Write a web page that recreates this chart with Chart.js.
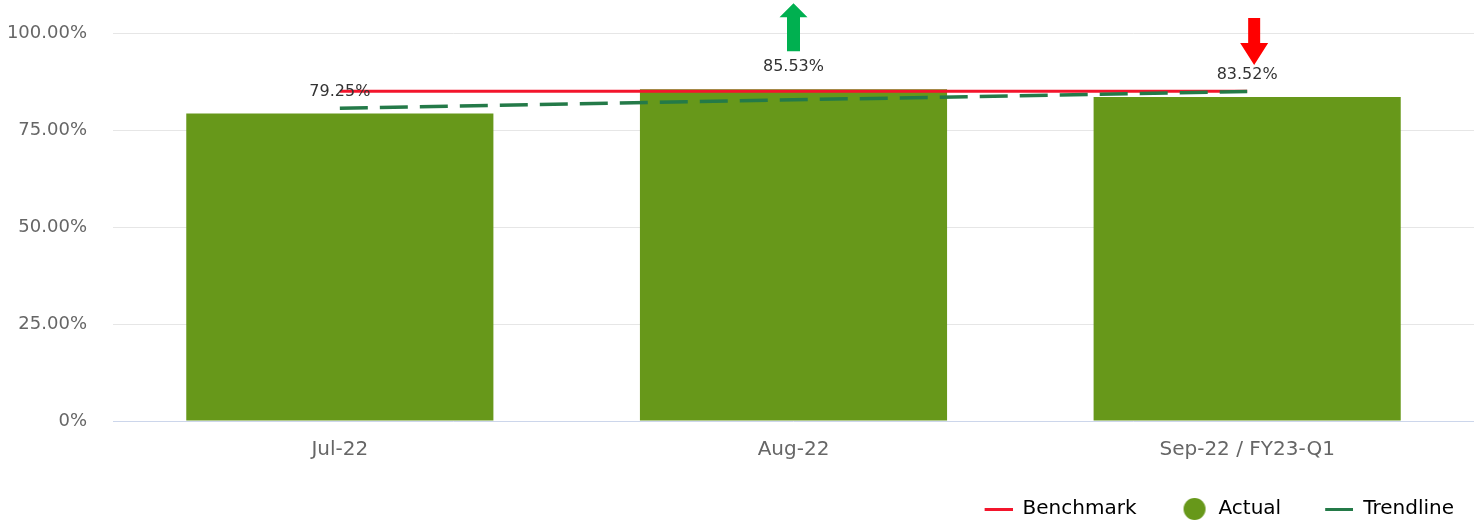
<!DOCTYPE html>
<html>
<head>
<meta charset="utf-8">
<script src="https://cdn.jsdelivr.net/npm/chart.js@4.4.0/dist/chart.umd.min.js"></script>
<style>
  html, body { margin: 0; padding: 0; background: #fff; }
</style>
</head>
<body>
<canvas id="chart" width="1475" height="522"></canvas>
<script>
// Chart data
const months = ['Jul-22', 'Aug-22', 'Sep-22 / FY23-Q1'];
const actual = [79.25, 85.53, 83.52];
const benchmark = [85, 85, 85];
const trendline = [80.63, 82.77, 84.90];
const movement = [null, 'up', 'down'];
const yTicks = [0, 25, 50, 75, 100];

const BAR_GREEN = '#67981a';
const BENCH_RED = '#f3152c';
const TREND_GREEN = '#247a48';

Chart.defaults.font.family = "'DejaVu Sans', Verdana, sans-serif";

// legend markers: 52px wide box, marker sits on the right so items get extra spacing
function legendLine(color) {
    const c = document.createElement('canvas');
    c.width = 52; c.height = 22;
    const g = c.getContext('2d');
    g.fillStyle = color;
    g.fillRect(24, 10, 28, 3);
    return c;
}

function legendDot(color) {
    const c = document.createElement('canvas');
    c.width = 52; c.height = 22;
    const g = c.getContext('2d');
    g.fillStyle = color;
    g.beginPath();
    g.arc(38, 11, 11, 0, Math.PI * 2);
    g.fill();
    return c;
}

function fmtPct(v) {
    return v.toFixed(2) + '%';
}

// value labels + movement arrows above the bars
const barLabels = {
    id: 'barLabels',
    afterDatasetsDraw(chart) {
        const meta = chart.getDatasetMeta(0);
        const ctx = chart.ctx;
        ctx.save();
        ctx.font = "16px 'DejaVu Sans'";
        ctx.textAlign = 'center';
        ctx.textBaseline = 'middle';
        meta.data.forEach((bar, i) => {
            const ly = bar.y - 22;
            ctx.fillStyle = '#333';
            ctx.fillText(fmtPct(actual[i]), bar.x, ly);

            if (movement[i] === 'up') {
                const x = bar.x;
                ctx.fillStyle = '#00b050';
                ctx.beginPath();
                ctx.moveTo(x, ly - 64);
                ctx.lineTo(x + 14, ly - 50);
                ctx.lineTo(x + 6.5, ly - 50);
                ctx.lineTo(x + 6.5, ly - 16);
                ctx.lineTo(x - 6.5, ly - 16);
                ctx.lineTo(x - 6.5, ly - 50);
                ctx.lineTo(x - 14, ly - 50);
                ctx.closePath();
                ctx.fill();
            } else if (movement[i] === 'down') {
                const x = bar.x + 7;
                ctx.fillStyle = '#ff0000';
                ctx.beginPath();
                ctx.moveTo(x, ly - 10);
                ctx.lineTo(x + 14, ly - 32);
                ctx.lineTo(x + 6, ly - 32);
                ctx.lineTo(x + 6, ly - 57);
                ctx.lineTo(x - 6, ly - 57);
                ctx.lineTo(x - 6, ly - 32);
                ctx.lineTo(x - 14, ly - 32);
                ctx.closePath();
                ctx.fill();
            }
        });
        ctx.restore();
    }
};

new Chart(document.getElementById('chart'), {
    type: 'bar',
    data: {
        labels: months,
        datasets: [
            {
                type: 'bar',
                label: 'Actual',
                data: actual,
                backgroundColor: BAR_GREEN,
                categoryPercentage: 1,
                barPercentage: 0.677,
                order: 2
            },
            {
                type: 'line',
                label: 'Benchmark',
                data: benchmark,
                borderColor: BENCH_RED,
                borderWidth: 3,
                pointRadius: 0,
                tension: 0,
                order: 1
            },
            {
                type: 'line',
                label: 'Trendline',
                data: trendline,
                borderColor: TREND_GREEN,
                borderWidth: 3.5,
                borderDash: [28, 12],
                pointRadius: 0,
                tension: 0,
                order: 0
            }
        ]
    },
    options: {
        responsive: false,
        animation: false,
        layout: { padding: { top: 33, right: 1, left: 0, bottom: -7 } },
        plugins: {
            tooltip: { enabled: false },
            legend: {
                position: 'bottom',
                align: 'end',
                labels: {
                    usePointStyle: true,
                    pointStyleWidth: 52,
                    padding: 20,
                    color: '#333',
                    font: { size: 20 },
                    generateLabels: () => [
                        { text: 'Benchmark', pointStyle: legendLine(BENCH_RED), datasetIndex: 1, lineWidth: 0 },
                        { text: 'Actual', pointStyle: legendDot(BAR_GREEN), datasetIndex: 0, lineWidth: 0 },
                        { text: 'Trendline', pointStyle: legendLine(TREND_GREEN), datasetIndex: 2, lineWidth: 0 }
                    ]
                }
            }
        },
        scales: {
            x: {
                grid: { display: false },
                border: { display: false },
                ticks: { color: '#666', font: { size: 20 }, padding: 9 },
                afterFit: (scale) => { scale.height = 58; }
            },
            y: {
                min: 0,
                max: 100,
                border: { display: false },
                grid: {
                    drawTicks: false,
                    color: (c) => c.tick && c.tick.value === 0 ? '#ccd6eb' : '#e6e6e6'
                },
                ticks: {
                    color: '#666',
                    font: { size: 18 },
                    padding: 26,
                    callback: (v) => v === 0 ? '0%' : fmtPct(v)
                },
                afterBuildTicks: (scale) => { scale.ticks = yTicks.map(v => ({ value: v })); },
                afterFit: (scale) => {
                    scale.width = 113;
                    scale.paddingTop = 10;
                    scale.paddingBottom = 10;
                }
            }
        }
    },
    plugins: [barLabels]
});
</script>
</body>
</html>
